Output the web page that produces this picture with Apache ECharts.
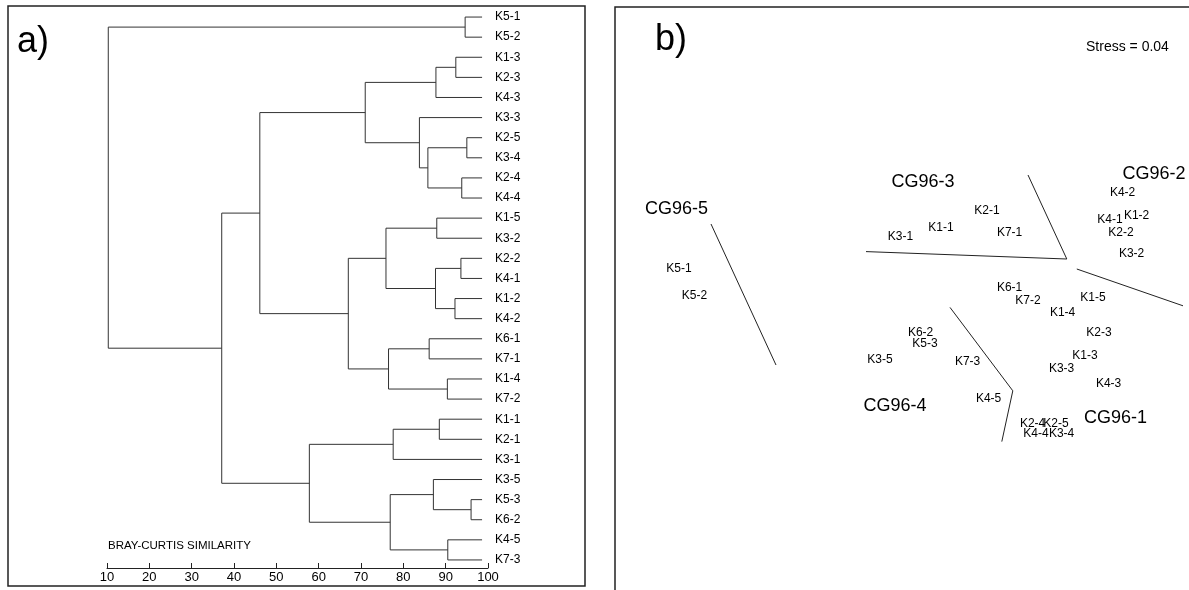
<!DOCTYPE html>
<html><head><meta charset="utf-8">
<script src="https://cdn.jsdelivr.net/npm/echarts@6/dist/echarts.min.js"></script>
<style>html,body{margin:0;padding:0;background:#fff}#c{width:1189px;height:590px}</style>
</head><body><div id="c"></div>
<script>
// ---- Dendrogram data (Bray-Curtis similarity, %) ----
const leaves = ['K5-1','K5-2','K1-3','K2-3','K4-3','K3-3','K2-5','K3-4','K2-4','K4-4',
  'K1-5','K3-2','K2-2','K4-1','K1-2','K4-2','K6-1','K7-1','K1-4','K7-2',
  'K1-1','K2-1','K3-1','K3-5','K5-3','K6-2','K4-5','K7-3'];
// merges: [childA, childB, similarity]; merge i becomes node 'n'+i
const merges = [
  ['K5-1','K5-2',94.6],   // n0
  ['K1-3','K2-3',92.4],   // n1
  ['n1','K4-3',87.7],     // n2
  ['K2-5','K3-4',95.0],   // n3
  ['K2-4','K4-4',93.8],   // n4
  ['n3','n4',85.8],       // n5
  ['K3-3','n5',83.8],     // n6
  ['n2','n6',71.0],       // n7
  ['K1-5','K3-2',87.9],   // n8
  ['K2-2','K4-1',93.6],   // n9
  ['K1-2','K4-2',92.2],   // n10
  ['n9','n10',87.6],      // n11
  ['n8','n11',75.9],      // n12
  ['K6-1','K7-1',86.1],   // n13
  ['K1-4','K7-2',90.4],   // n14
  ['n13','n14',76.5],     // n15
  ['n12','n15',67.0],     // n16
  ['n7','n16',46.1],      // n17
  ['K1-1','K2-1',88.5],   // n18
  ['n18','K3-1',77.6],    // n19
  ['K5-3','K6-2',96.0],   // n20
  ['K3-5','n20',87.1],    // n21
  ['K4-5','K7-3',90.5],   // n22
  ['n21','n22',76.9],     // n23
  ['n19','n23',57.8],     // n24
  ['n17','n24',37.1],     // n25
  ['n0','n25',10.3]       // n26
];
const leafLevel = 98.6;
const simAxis = {min:10, max:100, interval:10};

// ---- MDS ordination data ----
const mdsNames = ['K5-1','K5-2','K3-1','K1-1','K2-1','K7-1','K4-2','K4-1','K1-2','K2-2','K3-2',
  'K6-1','K7-2','K1-5','K1-4','K6-2','K2-3','K5-3','K3-5','K7-3','K1-3','K3-3','K4-3','K4-5',
  'K2-4','K2-5','K4-4','K3-4'];
const mds1 = [-1.18,-1.103,-0.073,0.13,0.36,0.473,1.038,0.975,1.108,1.03,1.083,
  0.473,0.565,0.89,0.738,0.028,0.92,0.05,-0.175,0.263,0.85,0.733,0.968,0.368,
  0.588,0.705,0.605,0.733];
const mds2 = [0.105,-0.03,0.267,0.312,0.395,0.285,0.485,0.35,0.372,0.285,0.18,
  0.014,-0.054,-0.039,-0.114,-0.215,-0.215,-0.267,-0.347,-0.359,-0.33,-0.392,-0.467,-0.542,
  -0.67,-0.67,-0.717,-0.717];
const groupNames = ['CG96-5','CG96-3','CG96-2','CG96-4','CG96-1'];
const group1 = [-1.193,0.04,1.195,-0.1,1.003];
const group2 = [0.405,0.54,0.58,-0.58,-0.642];
const boundaries = [
  [[-1.02,0.33],[-0.695,-0.375]],
  [[-0.245,0.192],[0.759,0.155]],
  [[0.565,0.575],[0.759,0.155]],
  [[0.809,0.105],[1.34,-0.079]],
  [[0.175,-0.087],[0.489,-0.504],[0.434,-0.758]]
];
const stressText = 'Stress = 0.04';

// ---- build dendrogram links ----
const pos = {};
leaves.forEach((n,i)=>{pos[n]={h:leafLevel,y:i};});
const links = [];
merges.forEach((m,i)=>{
  const a=pos[m[0]], b=pos[m[1]], H=m[2];
  pos['n'+i]={h:H,y:(a.y+b.y)/2};
  links.push({coords:[[a.h,a.y],[H,a.y],[H,b.y],[b.h,b.y]]});
});

const FONT = 'Liberation Sans, Arial, Helvetica, sans-serif';
const chart = echarts.init(document.getElementById('c'), null, {renderer:'canvas'});
const option = {
  backgroundColor:'#fff',
  animation:false,
  title:[
    {text:'a)', left:17, top:24, padding:0, textStyle:{fontSize:36, fontWeight:'normal', fontFamily:FONT, color:'#000'}},
    {text:'b)', left:655, top:22, padding:0, textStyle:{fontSize:36, fontWeight:'normal', fontFamily:FONT, color:'#000'}},
    {text:'BRAY-CURTIS SIMILARITY', left:108, top:540, padding:0, textStyle:{fontSize:11.5, fontWeight:'normal', fontFamily:FONT, color:'#000'}},
    {text:stressText, left:1086, top:40, padding:0, textStyle:{fontSize:14, fontWeight:'normal', fontFamily:FONT, color:'#000'}}
  ],
  graphic:[
    {type:'rect', shape:{x:8,y:6,width:577,height:580}, style:{fill:null, stroke:'#222', lineWidth:1.5}, silent:true},
    {type:'rect', shape:{x:615,y:7,width:620,height:620}, style:{fill:null, stroke:'#222', lineWidth:1.5}, silent:true}
  ],
  grid:[
    {left:107, width:381, top:7, height:563},
    {left:615, width:574, top:7, height:583}
  ],
  xAxis:[
    {type:'value', gridIndex:0, position:'bottom', offset:-2, min:simAxis.min, max:simAxis.max, interval:simAxis.interval,
     axisLine:{show:true, onZero:false, lineStyle:{color:'#222', width:1}},
     axisTick:{show:true, inside:true, length:5, lineStyle:{color:'#222'}},
     axisLabel:{color:'#000', fontSize:13, fontFamily:FONT, margin:3},
     splitLine:{show:false}},
    {type:'value', gridIndex:1, min:-1.5, max:1.37, show:false, splitLine:{show:false}}
  ],
  yAxis:[
    {type:'value', gridIndex:0, min:-0.5, max:27.5, inverse:true, show:false, splitLine:{show:false}},
    {type:'category', gridIndex:0, data:leaves, inverse:true, position:'right', boundaryGap:true,
     axisLine:{show:false, onZero:false}, axisTick:{show:false},
     axisLabel:{color:'#000', fontSize:12, fontFamily:FONT, margin:7, interval:0}},
    {type:'value', gridIndex:1, min:-1.5, max:1.415, show:false, splitLine:{show:false}}
  ],
  series:[
    {type:'lines', coordinateSystem:'cartesian2d', xAxisIndex:0, yAxisIndex:0, polyline:true,
     silent:true, data:links, lineStyle:{color:'#333', width:1, opacity:1}},
    {type:'scatter', xAxisIndex:1, yAxisIndex:2, symbolSize:1, silent:true,
     itemStyle:{color:'rgba(0,0,0,0)', opacity:1},
     label:{show:true, position:'inside', formatter:'{b}', color:'#000', fontSize:12, fontFamily:FONT},
     data:mdsNames.map((n,i)=>({name:n, value:[mds1[i], mds2[i]]}))},
    {type:'scatter', xAxisIndex:1, yAxisIndex:2, symbolSize:1, silent:true,
     itemStyle:{color:'rgba(0,0,0,0)', opacity:1},
     label:{show:true, position:'inside', formatter:'{b}', color:'#000', fontSize:18, fontFamily:FONT},
     data:groupNames.map((n,i)=>({name:n, value:[group1[i], group2[i]]}))}
  ].concat(boundaries.map(b=>({
     type:'line', xAxisIndex:1, yAxisIndex:2, data:b, showSymbol:false, symbol:'none', silent:true,
     lineStyle:{color:'#222', width:1}
  })))
};
chart.setOption(option);
</script>
</body></html>
